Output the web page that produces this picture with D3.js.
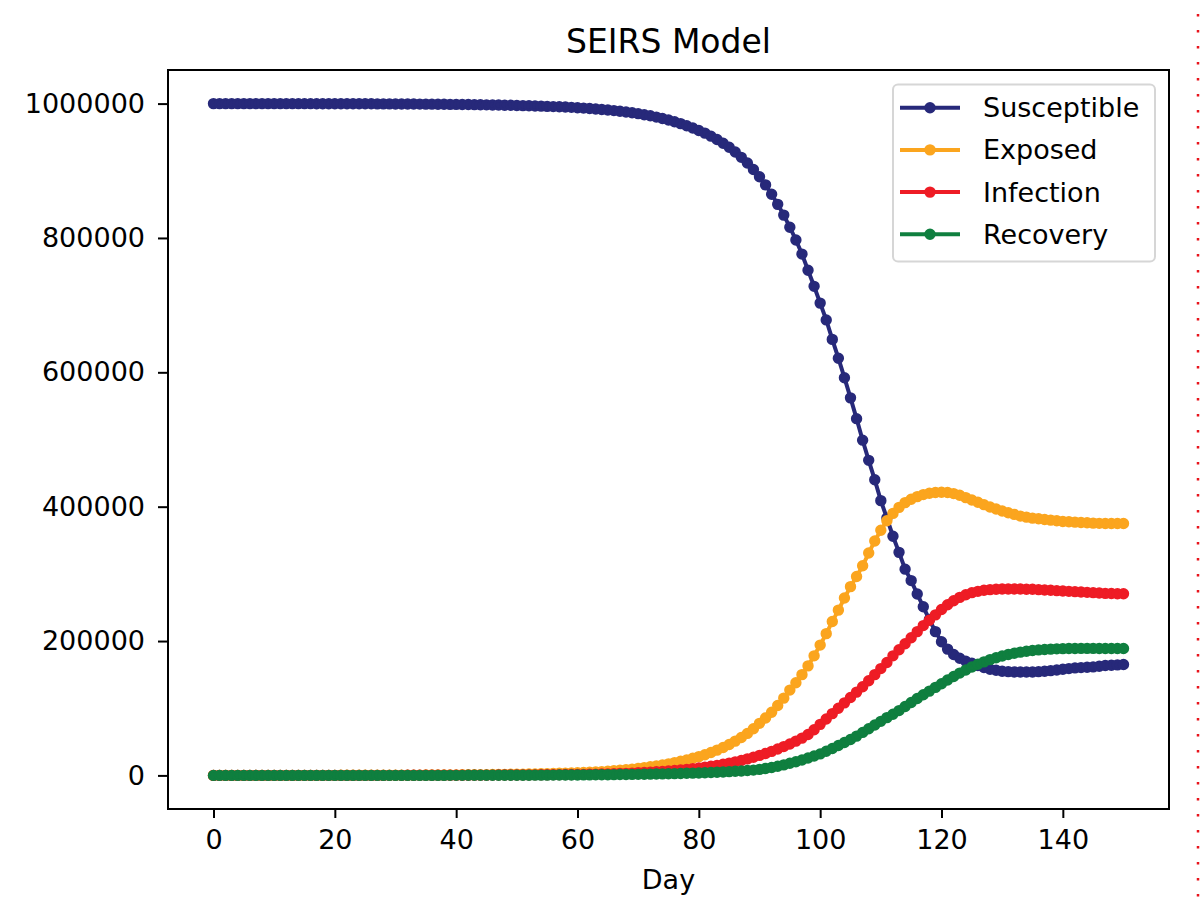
<!DOCTYPE html>
<html>
<head>
<meta charset="utf-8">
<script src="https://cdn.jsdelivr.net/npm/d3@7"></script>
<style>
  body { margin: 0; background: #fff; }
  text { font-family: "DejaVu Sans", sans-serif; fill: #000; }
</style>
</head>
<body>
<svg id="chart" width="1200" height="904"></svg>
<script>
// daily values, day 0 .. 150
const susceptible = [
  999990, 999985, 999980, 999977, 999972, 999968, 999963, 999957, 999949, 999943,
  999934, 999927, 999918, 999909, 999899, 999888, 999876, 999862, 999847, 999830,
  999812, 999790, 999768, 999744, 999718, 999688, 999656, 999621, 999583, 999541,
  999496, 999447, 999394, 999337, 999275, 999207, 999134, 999054, 998967, 998875,
  998775, 998667, 998551, 998425, 998291, 998148, 997990, 997818, 997631, 997428,
  997211, 996980, 996740, 996470, 996190, 995880, 995550, 995200, 994830, 994430,
  993800, 993300, 992700, 992000, 991300, 990500, 989600, 988600, 987500, 986300,
  985000, 983500, 981800, 979900, 977800, 975500, 973000, 970200, 967100, 963700,
  960000, 956000, 951500, 946500, 941000, 935000, 928000, 920000, 911500, 902000,
  891000, 879000, 865000, 850000, 834000, 816000, 797000, 776000, 752000, 728000,
  703000, 678000, 649000, 621000, 592000, 562000, 531000, 499000, 469000, 440000,
  409000, 383000, 356000, 332000, 307000, 290000, 270000, 251000, 232000, 214000,
  199000, 188000, 180000, 174500, 170000, 167000, 163500, 160500, 158000, 156500,
  155000, 154500, 154000, 154000, 154000, 154000, 154500, 155000, 156000, 157000,
  158000, 159000, 160000, 160500, 161000, 161500, 162500, 163500, 164000, 164500, 165000
];
const exposed = [
  10, 12, 14, 16, 18, 21, 24, 27, 31, 35,
  40, 45, 51, 57, 64, 72, 80, 90, 100, 112,
  125, 140, 155, 172, 190, 210, 232, 256, 282, 310,
  340, 372, 407, 445, 486, 530, 578, 630, 686, 746,
  810, 880, 955, 1035, 1120, 1210, 1310, 1420, 1540, 1670,
  1800, 1950, 2120, 2300, 2500, 2720, 2950, 3200, 3450, 3650,
  3900, 4300, 4700, 5200, 5700, 6300, 6900, 7600, 8400, 9400,
  10500, 11600, 12800, 14100, 15600, 17200, 19000, 21000, 23000, 25500,
  28000, 30800, 34000, 37600, 41600, 46000, 51000, 56500, 62500, 69500,
  77500, 85500, 94000, 104000, 115000, 127000, 138000, 150000, 163000, 178000,
  194000, 211000, 229000, 246000, 264000, 281000, 296000, 312000, 331000, 349000,
  365000, 379000, 390000, 399000, 406000, 411000, 415000, 418000, 420000, 421000,
  421500, 421000, 419500, 417000, 413500, 410000, 406500, 403000, 399500, 396500,
  393500, 391000, 388500, 386000, 384500, 383000, 382000, 381000, 380000, 379000,
  378000, 377500, 377000, 376500, 376000, 375500, 375200, 375000, 375000, 375000, 375000
];
const infection = [
  0, 2, 3, 4, 5, 6, 7, 8, 9, 11,
  12, 14, 16, 18, 20, 22, 25, 28, 31, 35,
  39, 44, 49, 54, 60, 67, 74, 82, 91, 101,
  112, 124, 137, 151, 166, 183, 201, 221, 243, 266,
  291, 318, 347, 379, 413, 450, 490, 533, 579, 629,
  683, 740, 802, 868, 938, 1013, 1093, 1178, 1268, 1364,
  1470, 1600, 1750, 1900, 2100, 2300, 2550, 2800, 3100, 3450,
  3850, 4300, 4800, 5350, 5950, 6600, 7300, 8100, 9000, 10000,
  11100, 12300, 13600, 15000, 16600, 18300, 20200, 22300, 24600, 27100,
  29800, 32700, 35800, 39200, 42900, 46800, 51000, 55500, 61000, 68000,
  76000, 84000, 92000, 100000, 108000, 116000, 124000, 132000, 141000, 150000,
  159000, 168000, 178000, 187000, 196000, 205000, 214000, 223000, 231000, 239000,
  247000, 254000, 260000, 265000, 269000, 272000, 274000, 275500, 276500, 277000,
  277500, 277500, 277500, 277500, 277000, 277000, 276500, 276000, 275500, 275000,
  274500, 274000, 273500, 273000, 272500, 272000, 271500, 271000, 270800, 270500, 270300
];
const recovery = [
  0, 0, 0, 1, 1, 1, 2, 2, 3, 3,
  4, 4, 5, 6, 7, 8, 9, 10, 11, 13,
  14, 16, 18, 20, 22, 25, 28, 31, 34, 38,
  42, 47, 52, 57, 63, 70, 77, 85, 94, 103,
  114, 125, 137, 151, 166, 182, 200, 219, 240, 263,
  288, 315, 345, 377, 412, 450, 491, 536, 585, 638,
  695, 757, 825, 898, 977, 1062, 1155, 1255, 1364, 1482,
  1610, 1750, 1900, 2060, 2240, 2430, 2640, 2870, 3120, 3390,
  3690, 4010, 4360, 4740, 5160, 5620, 6120, 6670, 7270, 7930,
  9000, 10300, 11800, 13600, 15700, 18000, 20300, 23000, 26000, 29000,
  32000, 36000, 40000, 44500, 49000, 53500, 58500, 64000, 69500, 75000,
  80500, 86000, 91000, 96500, 102500, 108500, 114500, 120000, 125500, 131000,
  136500, 142000, 147300, 152300, 157000, 161400, 165400, 169000, 172300, 175200,
  177800, 180000, 181900, 183500, 184800, 185900, 186800, 187500, 188000, 188400,
  188700, 188900, 189000, 189100, 189100, 189100, 189000, 189000, 188900, 188900, 188800
];

const seriesNames = ["Susceptible", "Exposed", "Infection", "Recovery"];
const seriesColors = ["#27297a", "#fba51e", "#ee1c25", "#0f7f3f"];
const xTicks = [0, 20, 40, 60, 80, 100, 120, 140];
const yTicks = [0, 200000, 400000, 600000, 800000, 1000000];

const series = [susceptible, exposed, infection, recovery];

const svg = d3.select("#chart");
const plotLeft = 168, plotRight = 1169, plotTop = 70, plotBottom = 809;

const x = d3.scaleLinear().domain([-7.5, 157.5]).range([plotLeft, plotRight]);
const y = d3.scaleLinear().domain([-50000, 1050000]).range([plotBottom, plotTop]);

// axes
const xAxis = svg.append("g")
  .attr("transform", `translate(0,${plotBottom})`)
  .call(d3.axisBottom(x).tickValues(xTicks).tickSize(9).tickPadding(12).tickFormat(d3.format("d")));
const yAxis = svg.append("g")
  .attr("transform", `translate(${plotLeft},0)`)
  .call(d3.axisLeft(y).tickValues(yTicks).tickSize(10).tickPadding(13).tickFormat(d3.format("d")));

[xAxis, yAxis].forEach((g) => {
  g.select(".domain").remove();
  g.selectAll(".tick line").attr("stroke", "#000").attr("stroke-width", 2);
  g.selectAll(".tick text")
    .style("font-size", "27px")
    .style("font-family", "DejaVu Sans, sans-serif")
    .attr("fill", "#111");
});

// lines + dot markers
const line = d3.line()
  .x((d, i) => x(i))
  .y((d) => y(d));

series.forEach((values, k) => {
  const g = svg.append("g");
  g.append("path")
    .datum(values)
    .attr("fill", "none")
    .attr("stroke", seriesColors[k])
    .attr("stroke-width", 4)
    .attr("d", line);
  g.selectAll("circle")
    .data(values)
    .join("circle")
    .attr("cx", (d, i) => x(i))
    .attr("cy", (d) => y(d))
    .attr("r", 4.3)
    .attr("fill", seriesColors[k])
    .attr("stroke", seriesColors[k])
    .attr("stroke-width", 2.8);
});

// frame
svg.append("rect")
  .attr("x", plotLeft).attr("y", plotTop)
  .attr("width", plotRight - plotLeft).attr("height", plotBottom - plotTop)
  .attr("fill", "none").attr("stroke", "#000").attr("stroke-width", 2);

// titles
svg.append("text")
  .attr("x", (plotLeft + plotRight) / 2).attr("y", 53)
  .attr("text-anchor", "middle")
  .attr("fill", "#111")
  .style("font-size", "33px")
  .text("SEIRS Model");
svg.append("text")
  .attr("x", (plotLeft + plotRight) / 2).attr("y", 889)
  .attr("text-anchor", "middle")
  .attr("fill", "#111")
  .style("font-size", "27px")
  .text("Day");

// legend
const legendG = svg.append("g");
legendG.append("rect")
  .attr("x", 893).attr("y", 84.5)
  .attr("width", 262).attr("height", 177)
  .attr("rx", 5)
  .attr("fill", "#fff").attr("fill-opacity", 0.8)
  .attr("stroke", "#d6d6d6").attr("stroke-width", 2);
seriesNames.forEach((name, k) => {
  const cy = 107.7 + k * 42.2;
  legendG.append("line")
    .attr("x1", 900).attr("x2", 960)
    .attr("y1", cy).attr("y2", cy)
    .attr("stroke", seriesColors[k]).attr("stroke-width", 4);
  legendG.append("circle")
    .attr("cx", 930).attr("cy", cy).attr("r", 4.3)
    .attr("fill", seriesColors[k])
    .attr("stroke", seriesColors[k]).attr("stroke-width", 2.8);
  legendG.append("text")
    .attr("x", 983).attr("y", cy)
    .attr("dy", "0.35em")
    .attr("fill", "#111")
    .style("font-size", "27px")
    .text(name);
});

// red dotted guide on the right edge
svg.append("line")
  .attr("x1", 1198).attr("x2", 1198)
  .attr("y1", 14).attr("y2", 904)
  .attr("stroke", "#e8131b").attr("stroke-width", 2.5)
  .attr("stroke-dasharray", "2.5,13.5");
</script>
</body>
</html>
